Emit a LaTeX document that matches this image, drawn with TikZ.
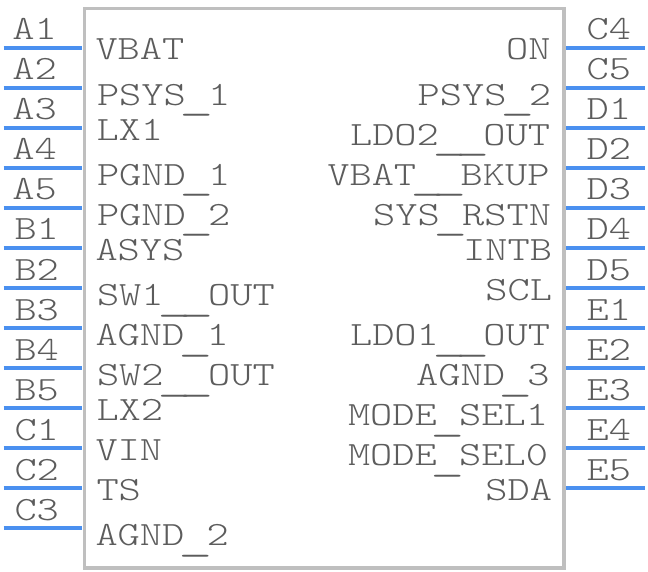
\documentclass[tikz,border=0pt]{standalone}
\usepackage{fontspec}
\newfontfamily\pinfont[FakeStretch=1.245]{Latin Modern Mono Light}
\definecolor{txtgray}{HTML}{5C5C5C}
\definecolor{boxgray}{HTML}{BFBFBF}
\definecolor{pinblue}{HTML}{4A90F0}
\newcommand{\us}{\makebox[22.2pt]{\raisebox{-4.5pt}{\scalebox{1.55}[1.1]{\_}}}}
\tikzset{
  body/.style={draw=boxgray,line width=3.8pt,fill=white,inner sep=0pt,minimum width=479.5pt,minimum height=559.5pt},
  pinline/.style={draw=pinblue,line width=3.6pt},
  lbl/.style={inner sep=0pt,outer sep=0pt,text=txtgray,font=\fontsize{34}{34}\selectfont\pinfont},
  lblw/.style={lbl,anchor=base west},
  lble/.style={lbl,anchor=base east}
}
\begin{document}
\begin{tikzpicture}[x=1pt,y=-1pt]
\useasboundingbox (0,0) rectangle (648,572);
\node[body] (box) at (324.3,288.2) {};
% left pins
\foreach \n/\yy/\tx in {A1/48/12.5,A2/88/12.5,A3/128/12.5,A4/168/12.5,A5/208/12.5,B1/248/14.5,B2/288/14.5,B3/328/14.5,B4/368/14.5,B5/408/14.5,C1/448/14.5,C2/488/14.5,C3/528/14.5}{
  \coordinate (\n o) at (3.5,\yy);
  \coordinate (\n i) at (82,\yy);
  \draw[pinline] (\n o) -- (\n i);
  \node[lblw] (\n) at (\tx,\yy-8) {\n};
}
% right pins
\foreach \n/\yy in {C4/48,C5/88,D1/128,D2/168,D3/208,D4/248,D5/288,E1/328,E2/368,E3/408,E4/448,E5/488}{
  \coordinate (\n o) at (645,\yy);
  \coordinate (\n i) at (566,\yy);
  \draw[pinline] (\n i) -- (\n o);
  \node[lble] (\n) at (631,\yy-8) {\n};
}
% inner left labels
\node[lblw] (vbat) at (95.5,59.5) {VBAT};
\node[lblw] (psysa) at (97,105.5) {PSYS\us 1};
\node[lblw] (lxa) at (96.5,140.5) {LX1};
\node[lblw] (pgnda) at (97,185.5) {PGND\us 1};
\node[lblw] (pgndb) at (97,225.5) {PGND\us 2};
\node[lblw] (asys) at (95.5,260.5) {ASYS};
\node[lblw] (swa) at (97,305.5) {SW1\us\us OUT};
\node[lblw] (agnda) at (95.5,345.5) {AGND\us 1};
\node[lblw] (swb) at (97,385.5) {SW2\us\us OUT};
\node[lblw] (lxb) at (96.5,420.5) {LX2};
\node[lblw] (vin) at (95.5,460) {VIN};
\node[lblw] (ts) at (96.5,500.5) {TS};
\node[lblw] (agndb) at (95.5,545.5) {AGND\us 2};
% inner right labels
\node[lble] (on) at (550.5,59.5) {ON};
\node[lble] (psysb) at (551,105.5) {PSYS\us 2};
\node[lble] (ldob) at (550,145.5) {LDO2\us\us OUT};
\node[lble] (bkup) at (549.5,185.5) {VBAT\us\us BKUP};
\node[lble] (rstn) at (551,225.5) {SYS\us RSTN};
\node[lble] (intb) at (552,260.5) {INTB};
\node[lble] (scl) at (552,300.5) {SCL};
\node[lble] (ldoa) at (550,345.5) {LDO1\us\us OUT};
\node[lble] (agndc) at (549.5,385.5) {AGND\us 3};
\node[lble] (modeb) at (548,425.5) {MODE\us SEL1};
\node[lble] (modea) at (548,465.5) {MODE\us SEL0};
\node[lble] (sda) at (552,500.5) {SDA};
\end{tikzpicture}
\end{document}
